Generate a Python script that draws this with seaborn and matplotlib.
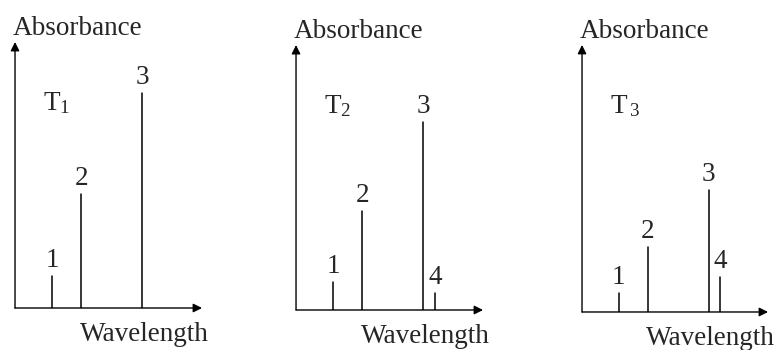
import matplotlib
matplotlib.use("Agg")
import matplotlib.pyplot as plt
import seaborn as sns
import pandas as pd

sns.set_theme(style="white")
plt.rcParams["font.family"] = ["Liberation Serif", "DejaVu Serif"]
plt.rcParams["mathtext.fontset"] = "custom"
plt.rcParams["mathtext.rm"] = "Liberation Serif"
plt.rcParams["mathtext.it"] = "Liberation Serif:italic"

# Peak positions along the wavelength axis (axis runs 0-100)
wavelengths = [19.8, 35.4, 68.0, 74.2]
peak_labels = ["1", "2", "3", "4"]

# Absorbance of each peak (axis runs 0-100) for the three temperatures
absorb_t1 = [12.0, 43.0, 81.0]
absorb_t2 = [10.6, 37.4, 71.0, 6.4]
absorb_t3 = [7.1, 24.3, 45.7, 13.1]

panel_titles = ["T$_{1}$", "T$_{2}$", "T$_{\\,3}$"]
series = [absorb_t1, absorb_t2, absorb_t3]

# axes placement in figure fractions: left, bottom, width, height
panel_boxes = [
    [0.0193, 0.120, 0.2404, 0.760],
    [0.3805, 0.1143, 0.2404, 0.757],
    [0.7481, 0.1086, 0.2391, 0.763],
]

FS = 19.5

fig = plt.figure(figsize=(7.78, 3.5), dpi=100)
fig.patch.set_facecolor("white")

for title, heights, box in zip(panel_titles, series, panel_boxes):
    ax = fig.add_axes(box)
    n = len(heights)
    rows = []
    for lab, x, h in zip(peak_labels[:n], wavelengths[:n], heights):
        rows.append({"peak": lab, "wavelength": x, "absorbance": 0.0})
        rows.append({"peak": lab, "wavelength": x, "absorbance": h})
    df = pd.DataFrame(rows)
    sns.lineplot(data=df, x="wavelength", y="absorbance", units="peak",
                 estimator=None, sort=False, color="black", linewidth=1.1,
                 ax=ax, legend=False)
    for lab, x, h in zip(peak_labels[:n], wavelengths[:n], heights):
        ax.annotate(lab, (x, h), xytext=(0, 2), textcoords="offset points",
                    ha="center", va="bottom", fontsize=FS)

    ax.set_xlim(0, 100)
    ax.set_ylim(0, 100)
    ax.axis("off")

    # axes drawn as arrows
    arrow = dict(arrowstyle="-|>", color="black", lw=1.0,
                 mutation_scale=13, shrinkA=0, shrinkB=0)
    ax.annotate("", xy=(1.0, 0.0), xytext=(0.0, 0.0),
                xycoords="axes fraction", arrowprops=arrow)
    ax.annotate("", xy=(0.0, 1.0), xytext=(0.0, 0.0),
                xycoords="axes fraction", arrowprops=arrow)

    ax.text(0.15, 0.77, title, transform=ax.transAxes, ha="left",
            va="center", fontsize=FS)
    ax.text(-0.012, 1.05, "Absorbance", transform=ax.transAxes,
            ha="left", va="center", fontsize=FS)
    ax.text(0.345, -0.10, "Wavelength", transform=ax.transAxes,
            ha="left", va="center", fontsize=FS)

fig.savefig("out.png", dpi=100, facecolor="white")
